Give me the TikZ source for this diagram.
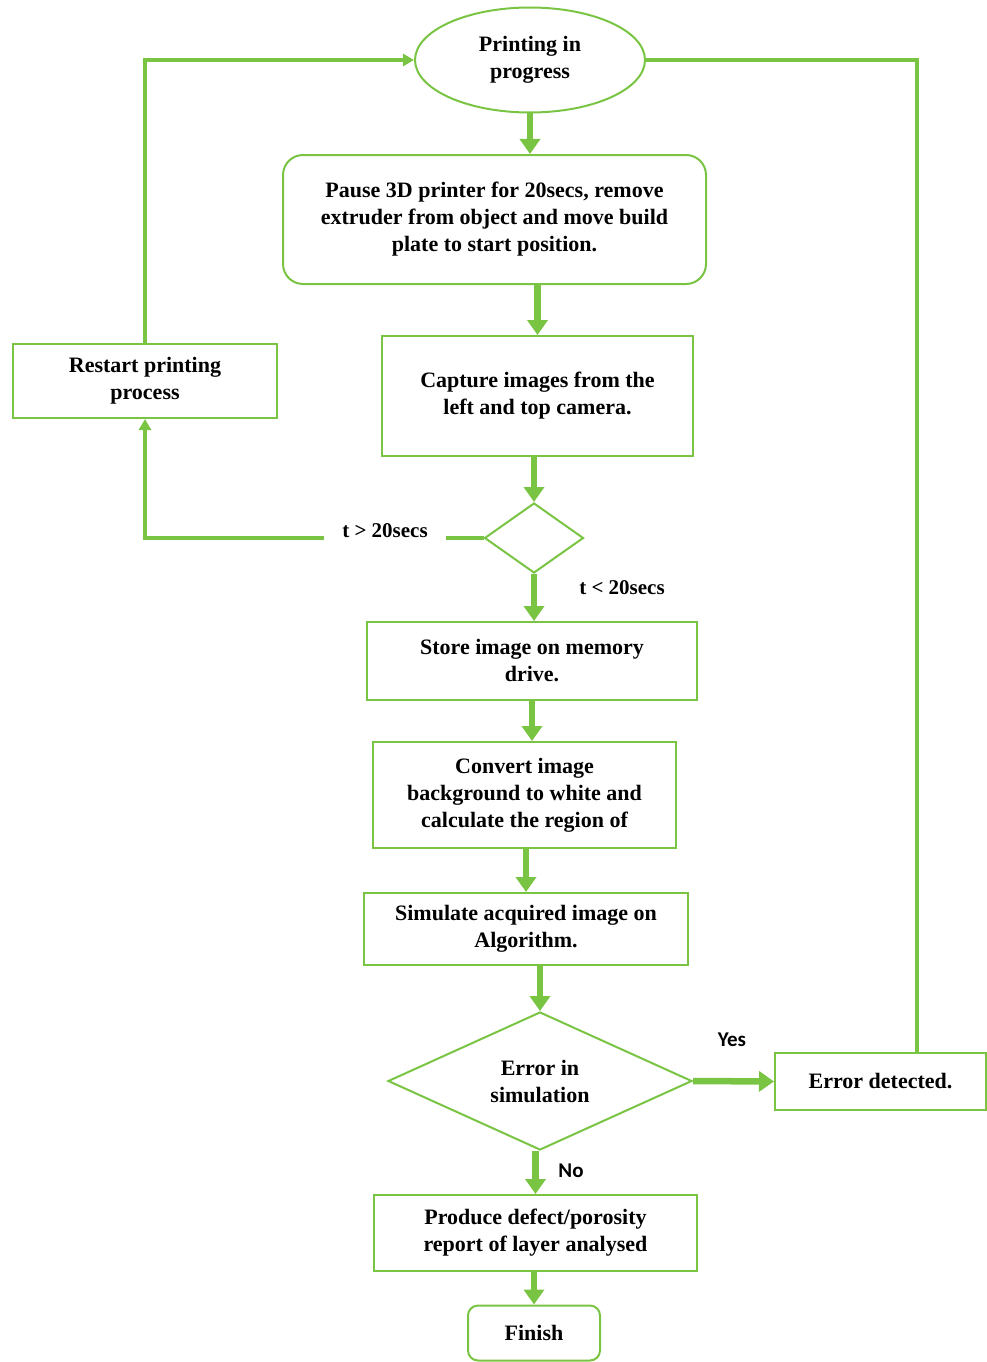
\documentclass[tikz,border=0pt]{standalone}
\usepackage{fontspec}
\setmainfont{Liberation Serif}
\newfontfamily\labelsans{Carlito}
\usepackage{xcolor}
\usepackage{tikz}
\usetikzlibrary{arrows.meta,positioning,calc,shapes.geometric}
\definecolor{flowgreen}{RGB}{122,196,68}

\begin{document}
\begin{tikzpicture}[x=1pt, y=-1pt,
    proc/.style={rectangle, draw=flowgreen, line width=2pt, fill=white, align=center,
                 inner sep=2pt, font=\fontsize{22}{27}\selectfont\bfseries},
    rproc/.style={proc, rounded corners=20pt},
    decis/.style={diamond, draw=flowgreen, line width=2pt, fill=white, align=center,
                  inner sep=0pt, font=\fontsize{22}{27}\selectfont\bfseries},
    arr/.style={-{Triangle[length=15pt, width=20pt]}, draw=flowgreen, line width=6.5pt},
    thinarr/.style={-{Triangle[length=11pt, width=12pt]}, draw=flowgreen, line width=3.2pt},
    thinline/.style={draw=flowgreen, line width=3.2pt},
    lbl/.style={inner sep=0pt, font=\fontsize{21}{25}\selectfont\bfseries},
    yn/.style={inner sep=0pt, font=\fontsize{21}{25}\selectfont\labelsans\bfseries}
]
\useasboundingbox (0,0) rectangle (987,1362);

\node[ellipse, draw=flowgreen, line width=2pt, align=center, inner sep=0pt,
      minimum width=230, minimum height=105, font=\fontsize{22}{27}\selectfont\bfseries]
      (prog) at (530,60) {Printing in\\progress};
\node[rproc, minimum width=423, minimum height=129] (pause) at (494.5,219.5)
      {Pause 3D printer for 20secs, remove\\extruder from object and move build\\plate to start position.};
\node[proc, minimum width=311, minimum height=120] (capture) at (537.5,396)
      {Capture images from the\\left and top camera.};
\node[proc, minimum width=264, minimum height=74] (restart) at (145,381)
      {Restart printing\\process};
\node[decis, minimum width=99, minimum height=70] (chk) at (534,538) {};
\node[proc, minimum width=330, minimum height=78] (store) at (532,661)
      {Store image on memory\\drive.};
\node[proc, minimum width=303, minimum height=106] (convert) at (524.5,795)
      {Convert image\\background to white and\\calculate the region of};
\node[proc, minimum width=324, minimum height=72] (simulate) at (526,929)
      {Simulate acquired image on\\Algorithm.};
\node[decis, aspect=2.2, minimum width=304, minimum height=138] (err) at (540,1081)
      {Error in\\simulation};
\node[proc, minimum width=211, minimum height=57] (detected) at (880.5,1081.5)
      {Error detected.};
\node[proc, minimum width=323, minimum height=76] (produce) at (535.5,1233)
      {Produce defect/porosity\\report of layer analysed};
\node[rproc, rounded corners=10pt, minimum width=132, minimum height=55] (finish) at (534,1333)
      {Finish};

\node[lbl, inner xsep=18pt] (tgt) at (385,531) {t > 20secs};
\node[lbl] (tlt) at (622,588) {t < 20secs};
\node[yn] (yes) at (732,1040) {Yes};
\node[yn] (no) at (571,1171) {No};
\coordinate (rt) at (917,55);

\draw[arr] (prog.south) -- (prog.south |- pause.north);
\draw[arr] (capture.north |- pause.south) -- (capture.north);
\draw[arr] (chk.north |- capture.south) -- (chk.north);
\draw[arr] (chk.south) -- (chk.south |- store.north);
\draw[arr] (store.south) -- (store.south |- convert.north);
\draw[arr] (simulate.north |- convert.south) -- (simulate.north);
\draw[arr] (err.north |- simulate.south) -- (err.north);
\draw[arr] (produce.north |- err.south) -- (produce.north);
\draw[arr] (err.east) -- (detected.west);
\draw[arr] (finish.north |- produce.south) -- (finish.north);

\draw[thinline] (chk.west) -- (tgt.east |- chk.west);
\draw[thinarr] (tgt.west |- chk.west) -| (restart.south);
\draw[thinarr] (restart.north) |- (prog.west);
\draw[thinline] (prog.east) -- (prog.east -| rt) -- (rt |- detected.north);
\end{tikzpicture}
\end{document}
